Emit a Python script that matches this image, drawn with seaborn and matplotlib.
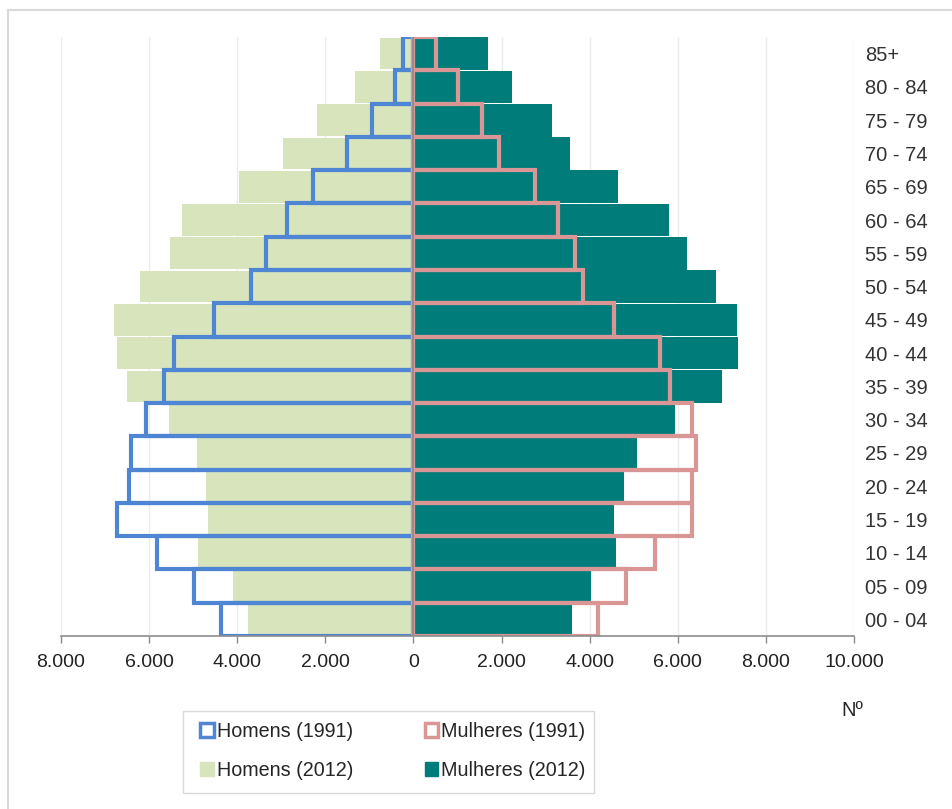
import numpy as np
import pandas as pd
import matplotlib
matplotlib.use('Agg')
import matplotlib.pyplot as plt
from matplotlib.patches import Patch, Rectangle
from matplotlib.ticker import FuncFormatter, MultipleLocator
import seaborn as sns

# ================= 数据 =================
age_groups = ['00 - 04', '05 - 09', '10 - 14', '15 - 19', '20 - 24', '25 - 29',
              '30 - 34', '35 - 39', '40 - 44', '45 - 49', '50 - 54', '55 - 59',
              '60 - 64', '65 - 69', '70 - 74', '75 - 79', '80 - 84', '85+']

homens_1991 = [4360, 4980, 5820, 6730, 6450, 6410, 6070, 5660, 5430, 4520,
               3680, 3340, 2860, 2270, 1500, 950, 430, 230]
homens_2012 = [3750, 4090, 4890, 4660, 4700, 4910, 5540, 6500, 6730, 6800,
               6200, 5520, 5250, 3950, 2950, 2180, 1320, 770]
mulheres_1991 = [4200, 4820, 5480, 6320, 6320, 6410, 6320, 5820, 5590, 4550,
                 3840, 3660, 3270, 2750, 1950, 1550, 1000, 520]
mulheres_2012 = [3610, 4020, 4590, 4550, 4770, 5070, 5930, 7000, 7360, 7340,
                 6860, 6220, 5790, 4640, 3550, 3150, 2230, 1700]

COLOR_H91 = '#4f86d4'
COLOR_M91 = '#d99694'
COLOR_H12 = '#d8e4bc'
COLOR_M12 = '#007d7a'

df = pd.DataFrame({
    'Idade': age_groups,
    'H91': -np.array(homens_1991),
    'H12': -np.array(homens_2012),
    'M91': np.array(mulheres_1991),
    'M12': np.array(mulheres_2012),
})
order = age_groups[::-1]

sns.set_style('white')
plt.rcParams['font.family'] = ['Liberation Sans', 'DejaVu Sans']

fig = plt.figure(figsize=(9.52, 8.09), dpi=100)
fig.patch.set_facecolor('white')
ax = fig.add_axes([61 / 952, 1 - 636 / 809, (854 - 61) / 952, (636 - 37) / 809])

# 填充的柱 (2012)
sns.barplot(ax=ax, data=df, x='H12', y='Idade', order=order, orient='h',
            color=COLOR_H12, saturation=1, width=0.95, linewidth=0, errorbar=None)
sns.barplot(ax=ax, data=df, x='M12', y='Idade', order=order, orient='h',
            color=COLOR_M12, saturation=1, width=0.98, linewidth=0, errorbar=None)
# 轮廓柱 (1991)
sns.barplot(ax=ax, data=df, x='H91', y='Idade', order=order, orient='h',
            color=COLOR_H91, saturation=1, width=1.0, fill=False, linewidth=3,
            errorbar=None)
sns.barplot(ax=ax, data=df, x='M91', y='Idade', order=order, orient='h',
            color=COLOR_M91, saturation=1, width=1.0, fill=False, linewidth=3,
            errorbar=None)

ax.axvline(0, color='#8c8c8c', lw=1.2, zorder=5)

ax.set_xlim(-8000, 10000)
ax.set_ylim(len(order) - 0.5, -0.5)
ax.xaxis.set_major_locator(MultipleLocator(2000))
ax.xaxis.set_major_formatter(FuncFormatter(lambda v, p: f'{abs(int(v)):,}'.replace(',', '.')))
ax.grid(axis='x', color='#ececec', lw=1)
ax.set_axisbelow(True)

ax.yaxis.tick_right()
ax.tick_params(axis='y', length=0, pad=8, labelsize=14.5, colors='#333333')
ax.tick_params(axis='x', bottom=True, length=5, width=1, color='#8c8c8c',
               pad=8, labelsize=14, labelcolor='#222222')
ax.set_xlabel('')
ax.set_ylabel('')
for s in ['top', 'left', 'right']:
    ax.spines[s].set_visible(False)
ax.spines['bottom'].set_color('#8c8c8c')
ax.spines['bottom'].set_linewidth(1.2)

fig.text(852 / 952, 1 - 711 / 809, 'Nº', ha='center', va='center', fontsize=14.5)

# 图例：逐行排列
handles = [
    Patch(facecolor='white', edgecolor=COLOR_H91, linewidth=2.5, label='Homens (1991)'),
    Patch(facecolor=COLOR_H12, edgecolor=COLOR_H12, label='Homens (2012)'),
    Patch(facecolor='white', edgecolor=COLOR_M91, linewidth=2.5, label='Mulheres (1991)'),
    Patch(facecolor=COLOR_M12, edgecolor=COLOR_M12, label='Mulheres (2012)'),
]
leg = fig.legend(handles=handles, ncol=2, loc='center',
                 bbox_to_anchor=(393 / 952, 1 - 751 / 809), fontsize=14.2,
                 frameon=False, handlelength=0.7, handleheight=0.7,
                 handletextpad=0.15, columnspacing=3.6, labelspacing=1.0)
fig.patches.append(Rectangle((183 / 952, 1 - 793 / 809), (594 - 183) / 952, (793 - 711) / 809,
                             transform=fig.transFigure, fill=False,
                             edgecolor='#d9d9d9', lw=1))

# 外边框
fig.patches.append(Rectangle((8 / 952, -0.05), 1.1, 1 - 10 / 809 + 0.05,
                             transform=fig.transFigure, fill=False,
                             edgecolor='#d9d9d9', lw=1.5))

fig.savefig('out.png', dpi=100, facecolor='white')
